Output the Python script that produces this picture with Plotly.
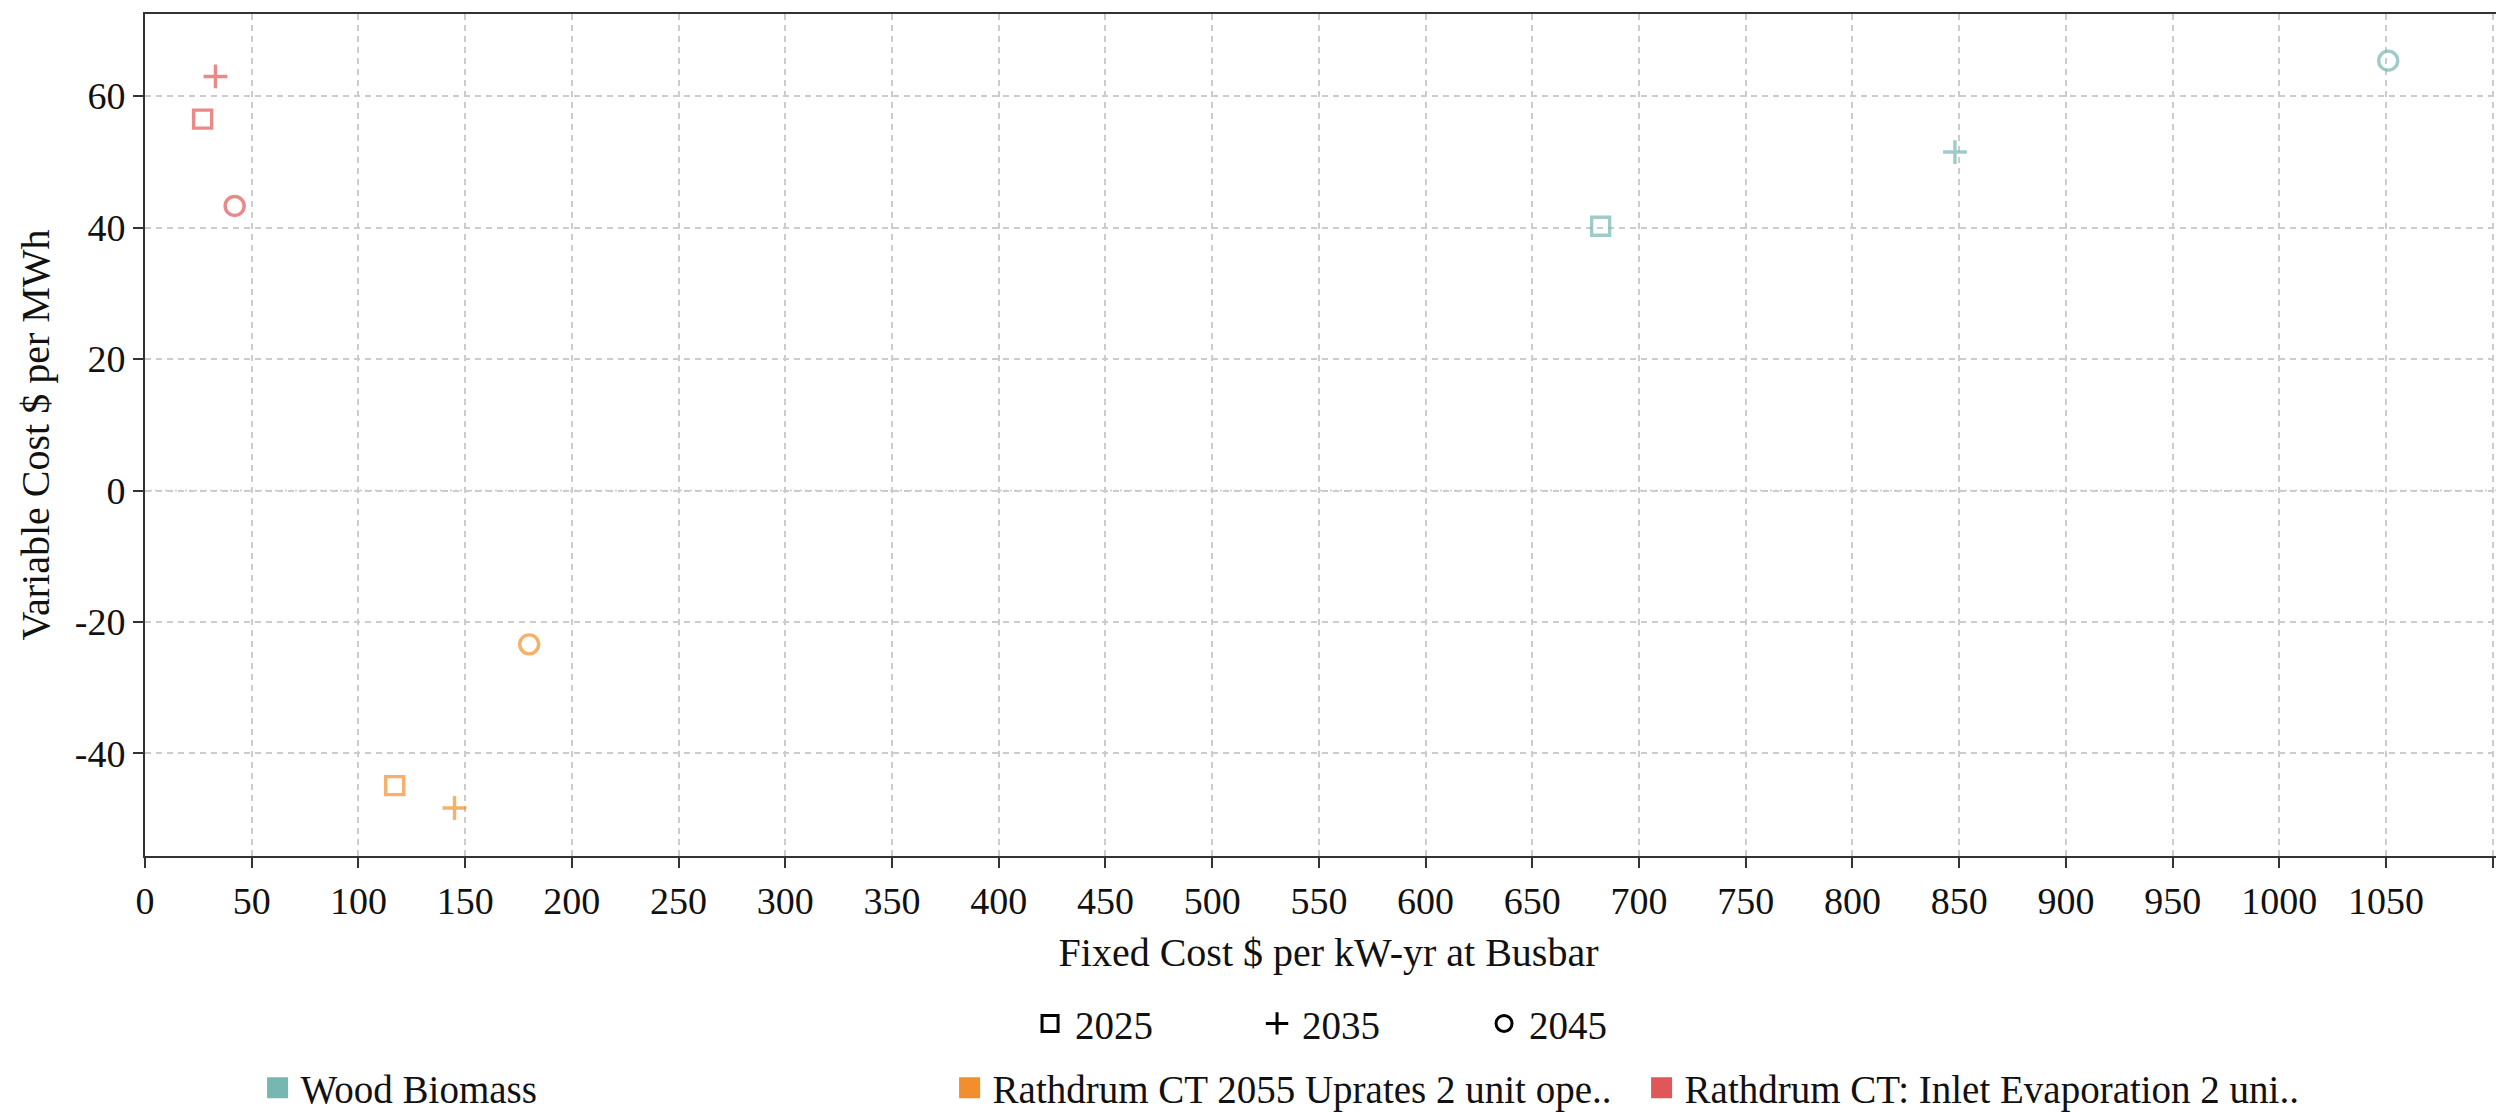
import plotly.graph_objects as go

# ---- data ----
categories = ["Wood Biomass",
              "Rathdrum CT 2055 Uprates 2 unit ope..",
              "Rathdrum CT: Inlet Evaporation 2 uni.."]
category_colors = ["#76b7b2", "#f28e2b", "#e15759"]

years = ["2025", "2035", "2045"]
year_symbols = ["square-open", "cross-thin-open", "circle-open"]

wood_fixed = [682, 848, 1051]
wood_variable = [40.2, 51.5, 65.4]

uprate_fixed = [117, 145, 180]
uprate_variable = [-44.9, -48.3, -23.4]

inlet_fixed = [27, 33, 42]
inlet_variable = [56.5, 63.0, 43.3]

x_tick_values = list(range(0, 1101, 50))
x_tick_labels = [str(v) for v in range(0, 1051, 50)] + [""]
y_tick_values = [-40, -20, 0, 20, 40, 60]
y_tick_labels = ["-40", "-20", "0", "20", "40", "60"]

FONT = "Liberation Serif, Times New Roman, serif"
TXT = "#111111"

fixed_series = [wood_fixed, uprate_fixed, inlet_fixed]
variable_series = [wood_variable, uprate_variable, inlet_variable]
symbol_sizes = {"square-open": 18, "cross-thin-open": 17, "circle-open": 19}

fig = go.Figure()

for name, col, xs, ys in zip(categories, category_colors, fixed_series, variable_series):
    fig.add_trace(go.Scatter(
        x=xs, y=ys, mode="markers", name=name, showlegend=False,
        marker=dict(symbol=year_symbols, color=col,
                    size=[symbol_sizes[s] for s in year_symbols],
                    line=dict(color=col, width=3.4)),
        hoverinfo="x+y+name",
    ))

# legend 1: years (symbols)
for yr, sym in zip(years, year_symbols):
    fig.add_trace(go.Scatter(
        x=[None], y=[None], mode="markers", name=yr, legend="legend",
        marker=dict(symbol=sym, color="black", size=17,
                    line=dict(color="black", width=3)),
    ))

# legend 2: categories (colors)
for name, col in zip(categories, category_colors):
    fig.add_trace(go.Scatter(
        x=[None], y=[None], mode="markers", name=name, legend="legend2",
        marker=dict(symbol="square", color=col, size=26, line=dict(color=col, width=8)),
    ))

# zero line drawn dotted over the grid
fig.add_shape(type="line", xref="paper", yref="y", x0=0, x1=1, y0=0, y1=0,
              line=dict(color="white", width=2.5), layer="between")
fig.add_shape(type="line", xref="paper", yref="y", x0=0, x1=1, y0=0, y1=0,
              line=dict(color="#c8c8c8", width=1.5, dash="2px,3px"), layer="between")

fig.update_layout(
    width=2504, height=1112,
    margin=dict(l=137, r=0, t=6, b=256),
    paper_bgcolor="white", plot_bgcolor="white",
    font=dict(family=FONT, size=38, color=TXT),
    showlegend=True,
    legend=dict(orientation="h", x=0.3718, xanchor="left", y=-0.199, yanchor="middle",
                font=dict(family=FONT, size=39, color=TXT), entrywidth=172, itemwidth=40,
                bgcolor="rgba(0,0,0,0)"),
    legend2=dict(orientation="h", x=0.0463, xanchor="left", y=-0.276, yanchor="middle",
                 font=dict(family=FONT, size=39, color=TXT), entrywidth=641, itemwidth=36,
                 bgcolor="rgba(0,0,0,0)"),
)

fig.update_xaxes(
    range=[0, 1109], tickmode="array", tickvals=x_tick_values, ticktext=x_tick_labels,
    showline=True, linecolor="#333333", linewidth=2, mirror=True,
    ticks="outside", ticklen=10, tickwidth=2, tickcolor="#333333",
    showgrid=True, gridcolor="#cccccc", gridwidth=1.5, griddash="6px,5px",
    zeroline=False,
    tickfont=dict(family=FONT, size=38, color=TXT),
    title=dict(text="Fixed Cost $ per kW-yr at Busbar", standoff=17,
               font=dict(family=FONT, size=40, color=TXT)),
)
fig.update_yaxes(
    range=[-55.6, 72.5], tickmode="array", tickvals=y_tick_values, ticktext=y_tick_labels,
    showline=True, linecolor="#333333", linewidth=2, mirror=False,
    ticks="outside", ticklen=10, tickwidth=2, tickcolor="#333333",
    showgrid=True, gridcolor="#cccccc", gridwidth=1.5, griddash="6px,5px",
    zeroline=False,
    tickfont=dict(family=FONT, size=38, color=TXT),
    title=dict(text="Variable Cost $ per MWh", standoff=13,
               font=dict(family=FONT, size=40, color=TXT)),
)

fig.write_html("out.html")
